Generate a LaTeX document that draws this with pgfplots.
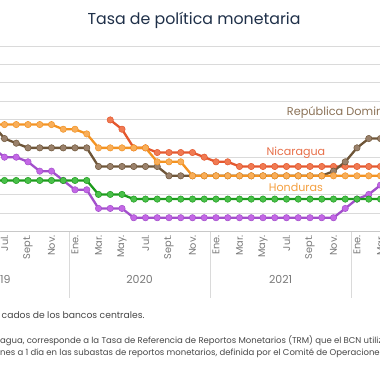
\documentclass[border=0pt]{standalone}
\usepackage{fontspec}
\setmainfont{Poppins}
\usepackage{pgfplots}
\pgfplotsset{compat=1.18}
\definecolor{hon}{HTML}{F39322}
\definecolor{honf}{HTML}{F8AE5A}
\definecolor{nic}{HTML}{E4572E}
\definecolor{nicf}{HTML}{F07A52}
\definecolor{dom}{HTML}{6E5538}
\definecolor{domf}{HTML}{9A816B}
\definecolor{gua}{HTML}{1C9B1C}
\definecolor{guaf}{HTML}{49C049}
\definecolor{cri}{HTML}{A24FCB}
\definecolor{crif}{HTML}{C467E6}
\definecolor{ttl}{HTML}{1F3049}
\definecolor{lbl}{HTML}{7A7A7A}
\definecolor{grd}{HTML}{DADADA}
\definecolor{axl}{HTML}{C8C8C8}
\definecolor{domtxt}{HTML}{8C7358}
\definecolor{nictxt}{HTML}{E8704A}
\definecolor{hontxt}{HTML}{F5A040}
\definecolor{note}{HTML}{474747}
\newcommand{\fs}[1]{\fontsize{#1}{#1}\selectfont}
\begin{document}
\begin{tikzpicture}
\useasboundingbox (0,0) rectangle (380bp,380bp);
\clip (0,0) rectangle (380bp,380bp);
\fill[white] (0,0) rectangle (380bp,380bp);
\node[anchor=base, text=ttl, font=\fs{15.8bp}] at (194bp,355bp) {Tasa de política monetaria};
\draw[grd, line width=0.9bp] (0,333.3bp) -- (380bp,333.3bp);
\begin{axis}[
  x=11.75bp, y=18.63bp, xmin=-8, xmax=27, ymin=0, ymax=9,
  at={(-19bp,148.3bp)}, anchor=south west,
  axis line style={draw=none},
  tick style={draw=none},
  major tick length=0pt,
  ytick={1,...,9}, yticklabels={},
  ymajorgrids, grid style={grd, line width=0.9bp},
  extra y ticks={0}, extra y tick labels={},
  extra y tick style={grid style={axl, line width=1.4bp}},
  xtick={-6,-4,...,26},
  xticklabels={Jul.,Sept.,Nov.,Ene.,Mar.,May.,Jul.,Sept.,Nov.,Ene.,Mar.,May.,Jul.,Sept.,Nov.,Ene.,Mar.},
  xticklabel style={rotate=90, anchor=east, font=\fs{9.8bp}, text=lbl},
  clip=false,
  every axis plot/.append style={line width=2.3bp, mark=*, mark size=3.2bp},
]
% Costa Rica
\addplot[cri, mark options={fill=crif, draw=cri, line width=0.5bp}] coordinates {
(-7,4.5) (-6,4.0) (-5,4.0) (-4,3.75) (-3,3.25) (-2,3.25) (-1,2.75) (0,2.25) (1,2.25)
(2,1.25) (3,1.25) (4,1.25) (5,0.75) (6,0.75) (7,0.75) (8,0.75) (9,0.75) (10,0.75)
(11,0.75) (12,0.75) (13,0.75) (14,0.75) (15,0.75) (16,0.75) (17,0.75) (18,0.75)
(19,0.75) (20,0.75) (21,0.75) (22,0.75) (23,1.25) (24,1.75) (25,2.0) (26,2.5)};
% Guatemala
\addplot[gua, mark options={fill=guaf, draw=gua, line width=0.5bp}] coordinates {
(-7,2.75) (-6,2.75) (-5,2.75) (-4,2.75) (-3,2.75) (-2,2.75) (-1,2.75) (0,2.75) (1,2.75)
(2,2.0) (3,2.0) (4,2.0) (5,1.75) (6,1.75) (7,1.75) (8,1.75) (9,1.75) (10,1.75)
(11,1.75) (12,1.75) (13,1.75) (14,1.75) (15,1.75) (16,1.75) (17,1.75) (18,1.75)
(19,1.75) (20,1.75) (21,1.75) (22,1.75) (23,1.75) (24,1.75) (25,1.75) (26,1.75)};
% Nicaragua
\addplot[nic, mark options={fill=nicf, draw=nic, line width=0.5bp}] coordinates {
(3,6.0) (4,5.5) (5,4.5) (6,4.5) (7,4.25) (8,4.25) (9,4.25) (10,4.25) (11,4.0)
(12,3.75) (13,3.75) (14,3.5) (15,3.5) (16,3.5) (17,3.5) (18,3.5) (19,3.5) (20,3.5)
(21,3.5) (22,3.5) (23,3.5) (24,3.5) (25,3.5) (26,3.5)};
% Republica Dominicana
\addplot[dom, mark options={fill=domf, draw=dom, line width=0.5bp}] coordinates {
(-7,5.75) (-6,5.0) (-5,4.75) (-4,4.5) (-3,4.5) (-2,4.5) (-1,4.5) (0,4.5) (1,4.5)
(2,3.5) (3,3.5) (4,3.5) (5,3.5) (6,3.5) (7,3.5) (8,3.0) (9,3.0) (10,3.0) (11,3.0)
(12,3.0) (13,3.0) (14,3.0) (15,3.0) (16,3.0) (17,3.0) (18,3.0) (19,3.0) (20,3.0)
(21,3.0) (22,3.25) (23,3.75) (24,4.5) (25,5.0) (26,5.0)};
% Honduras
\addplot[hon, mark options={fill=honf, draw=hon, line width=0.5bp}] coordinates {
(-7,5.75) (-6,5.75) (-5,5.75) (-4,5.75) (-3,5.75) (-2,5.75) (-1,5.5) (0,5.5) (1,5.25)
(2,4.5) (3,4.5) (4,4.5) (5,4.5) (6,4.5) (7,3.75) (8,3.75) (9,3.75) (10,3.0) (11,3.0)
(12,3.0) (13,3.0) (14,3.0) (15,3.0) (16,3.0) (17,3.0) (18,3.0) (19,3.0) (20,3.0)
(21,3.0) (22,3.0) (23,3.0) (24,3.0) (25,3.0) (26,3.0)};
% year separators and labels
\draw[grd, line width=0.9bp] (axis cs:-0.5,0) -- (axis cs:-0.5,-3.55);
\draw[grd, line width=0.9bp] (axis cs:11.5,0) -- (axis cs:11.5,-3.55);
\draw[grd, line width=0.9bp] (axis cs:23.5,0) -- (axis cs:23.5,-3.55);
\node[font=\fs{11bp}, text=lbl] at (axis cs:-6.5,-2.59) {2019};
\node[font=\fs{11bp}, text=lbl] at (axis cs:5.5,-2.59) {2020};
\node[font=\fs{11bp}, text=lbl] at (axis cs:17.5,-2.59) {2021};
% series labels
\node[anchor=base west, inner sep=0pt, text=domtxt, font=\fs{11.3bp}] at (axis cs:18.02,6.26) {República Dominicana};
\node[anchor=base, inner sep=0pt, text=nictxt, font=\fs{11.1bp}] at (axis cs:18.8,4.08) {Nicaragua};
\node[anchor=base, inner sep=0pt, text=hontxt, font=\fs{11.1bp}] at (axis cs:18.8,2.15) {Honduras};
\end{axis}
\node[anchor=base west, inner sep=0pt, text=note, font=\fs{9.2bp}] at (1.5bp,61bp) {cados de los bancos centrales.};
\node[anchor=base west, inner sep=0pt, text=note, font=\fs{8.5bp}] at (0bp,37bp) {agua, corresponde a la Tasa de Referencia de Reportos Monetarios (TRM) que el BCN utiliza como};
\node[anchor=base west, inner sep=0pt, text=note, font=\fs{8.5bp}] at (0bp,24.5bp) {nes a 1 día en las subastas de reportos monetarios, definida por el Comité de Operaciones Monetarias};
\end{tikzpicture}
\end{document}
